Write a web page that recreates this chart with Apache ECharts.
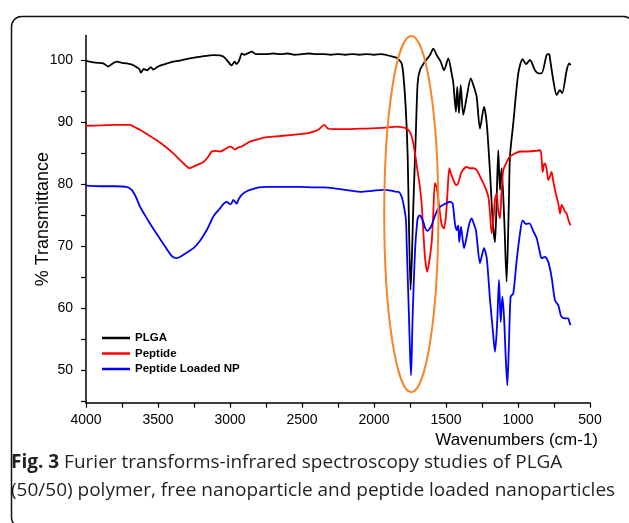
<!DOCTYPE html>
<html>
<head>
<meta charset="utf-8">
<script src="https://cdn.jsdelivr.net/npm/echarts@6/dist/echarts.min.js"></script>
<style>
html,body{margin:0;padding:0;background:#fff;}
#chart{width:629px;height:523px;}
</style>
</head>
<body>
<div id="chart"></div>
<script>
// ---- data (wavenumber cm-1, % transmittance) ----
var plgaWn = [4000,3960,3920,3880,3845,3815,3787,3750,3718,3680,3650,3630,3618,3600,3575,3550,3533,3500,3450,3394,3340,3278,3200,3116,3070,3047,3020,3000,2988,2975,2966,2955,2942,2930,2919,2900,2870,2849,2820,2750,2700,2650,2600,2550,2500,2450,2400,2350,2300,2250,2200,2150,2100,2050,2000,1950,1912,1870,1843,1820,1808,1797,1780,1766,1756,1746,1737,1727,1711,1697,1681,1646,1611,1588,1565,1537,1514,1484,1461,1449,1431,1422,1410,1398,1380,1356,1328,1306,1287,1264,1236,1217,1194,1176,1160,1150,1137,1125,1114,1095,1079,1063,1056,1033,998,968,944,917,882,859,836,801,783,778,755,731,709,693,662,644,635];
var plgaT = [99.9,99.7,99.6,99.5,99.0,99.5,99.8,99.6,99.5,99.3,98.9,98.6,98.0,98.6,98.4,98.9,98.5,99.0,99.4,99.8,100.0,100.3,100.6,100.85,100.8,100.6,100.0,99.4,99.2,99.6,99.8,99.4,99.7,100.4,101.1,100.9,101.2,101.4,101.0,101.0,101.1,101.0,101.1,100.9,101.0,101.1,101.0,101.0,100.9,101.0,100.9,101.0,100.9,101.0,100.9,101.0,100.85,100.6,100.4,99.9,99.5,97.9,92.5,84.5,72.0,63.0,68.0,76.5,87.1,96.3,98.4,99.8,100.85,101.9,100.85,99.8,98.4,100.3,97.9,96.3,91.7,95.7,91.5,96.0,91.2,94.1,97.1,95.7,94.1,89.0,92.5,89.8,81.8,74.2,70.7,76.0,85.5,79.1,82.6,74.0,64.3,77.5,84.5,89.8,97.9,100.2,99.4,100.05,98.4,97.9,97.9,100.85,101.0,100.3,96.8,94.4,95.2,94.7,98.4,99.5,99.2];

var peptideWn = [4000,3900,3800,3700,3694,3660,3625,3570,3509,3450,3394,3350,3324,3300,3283,3260,3231,3185,3150,3127,3100,3070,3040,3000,2985,2966,2945,2919,2890,2861,2800,2745,2650,2514,2450,2387,2345,2320,2283,2200,2100,2051,1950,1900,1843,1800,1773,1755,1738,1715,1700,1681,1668,1658,1645,1630,1615,1600,1590,1577,1565,1545,1530,1514,1500,1490,1477,1465,1449,1435,1422,1405,1392,1356,1333,1311,1287,1252,1229,1206,1195,1183,1172,1160,1149,1138,1125,1115,1102,1080,1056,1020,986,928,880,847,838,829,820,813,801,790,778,767,755,743,730,720,708,697,685,674,662,650,639,635];
var peptideT = [89.45,89.5,89.6,89.6,89.6,89.2,88.8,88.0,87.1,86.1,85.0,84.0,83.4,82.9,82.6,82.8,83.1,83.6,84.5,85.3,85.4,85.3,85.6,86.1,86.0,85.6,85.9,86.1,86.5,86.9,87.3,87.6,87.8,88.1,88.3,88.8,89.6,89.0,88.9,88.9,89.0,89.0,89.1,89.2,89.3,89.2,89.0,88.6,87.7,85.0,82.5,79.6,76.5,72.5,68.0,65.9,67.8,70.5,74.5,80.2,79.5,76.0,73.5,72.9,75.0,78.5,82.6,81.7,80.7,80.0,79.9,81.0,82.0,82.8,82.6,82.6,82.3,80.7,79.6,78.0,75.5,72.1,74.0,77.5,78.5,76.0,74.5,78.5,82.3,83.5,84.5,85.0,85.3,85.3,85.4,85.5,84.8,82.0,83.2,83.4,82.5,80.7,81.3,82.0,80.5,79.1,77.8,76.9,75.3,76.7,76.2,75.6,75.3,74.3,73.6,73.4];

var npWn = [4000,3900,3800,3718,3683,3650,3625,3590,3556,3520,3480,3440,3410,3390,3370,3340,3300,3250,3208,3162,3139,3116,3090,3070,3047,3023,3000,2988,2977,2965,2954,2940,2919,2890,2861,2800,2745,2600,2514,2400,2352,2283,2200,2097,2000,1935,1880,1843,1831,1808,1792,1778,1773,1765,1757,1750,1743,1737,1732,1715,1700,1692,1681,1670,1658,1645,1630,1615,1600,1575,1554,1519,1472,1454,1438,1426,1415,1408,1396,1375,1356,1340,1322,1305,1292,1264,1250,1236,1217,1194,1175,1160,1150,1143,1132,1120,1109,1097,1085,1074,1062,1051,1033,1009,986,968,944,921,893,870,847,836,813,790,767,743,720,703,690,674,651,643,635];
var npT = [79.8,79.7,79.7,79.6,79.1,77.8,76.4,75.0,73.7,72.4,71.0,69.6,68.6,68.2,68.1,68.4,69.0,69.8,70.9,72.6,73.7,74.8,75.6,76.1,76.8,77.2,76.8,77.0,77.5,77.2,76.9,77.6,78.3,78.8,79.1,79.5,79.6,79.6,79.6,79.5,79.5,79.4,79.1,78.8,79.0,79.1,79.0,78.8,78.8,78.0,76.4,74.2,70.5,64.5,58.6,53.0,49.2,53.5,58.6,69.4,74.0,74.8,75.0,74.6,74.0,73.0,72.5,72.8,73.4,75.0,76.1,76.7,77.2,76.9,73.7,72.6,73.4,70.7,73.2,69.7,71.6,73.5,74.5,73.5,72.6,67.3,68.6,69.7,68.1,61.3,56.5,53.0,55.5,58.6,64.6,57.8,61.9,58.6,52.0,47.6,55.0,61.9,62.4,67.8,72.1,74.2,73.6,73.7,72.4,71.3,68.9,68.1,68.3,67.5,65.1,61.3,60.5,58.9,58.5,58.4,58.4,57.8,57.3];

var seriesNames = ['PLGA', 'Peptide', 'Peptide Loaded NP'];
var seriesColors = ['#000000', '#ff0000', '#0000ff'];
var yTickValues = [45,50,55,60,65,70,75,80,85,90,95,100];
var yLabelValues = [50,60,70,80,90,100];
// highlighted region (ellipse): centre wavenumber / transmittance and half-extents in data units
var ellipseCenter = [1741, 75.2];
var ellipseHalf = [188, 28.7];
var captionBold = 'Fig. 3';
var captionLine1 = ' Furier transforms-infrared spectroscopy studies of PLGA';
var captionLine2 = '(50/50) polymer, free nanoparticle and peptide loaded nanoparticles';

function pairs(wn, t){ var out=[]; for(var i=0;i<wn.length;i++){ out.push([wn[i], t[i]]); } return out; }
var allData = [pairs(plgaWn, plgaT), pairs(peptideWn, peptideT), pairs(npWn, npT)];

var chart = echarts.init(document.getElementById('chart'), null, {renderer:'canvas'});
var axisFont = 'Liberation Sans, Arial, sans-serif';

var series = seriesNames.map(function(n, i){
  return {
    name: n, type: 'line', data: allData[i], showSymbol: false, symbol: 'none',
    smooth: 0.25, lineStyle: {color: seriesColors[i], width: 1.8}, itemStyle: {color: seriesColors[i]},
    animation: false
  };
});

chart.setOption({
  animation: false,
  grid: {left: 86, right: 39, top: 35.5, bottom: 120.3, containLabel: false},
  legend: {
    orient: 'vertical', left: 102, top: 331, padding: 0, icon: 'rect', itemWidth: 28, itemHeight: 2.5, itemGap: 1.5,
    data: seriesNames,
    textStyle: {fontFamily: axisFont, fontWeight: 'bold', fontSize: 11.5, color: '#000', lineHeight: 14}
  },
  xAxis: {
    type: 'value', inverse: true, min: 500, max: 4000, interval: 250,
    axisLine: {show: true, lineStyle: {color: '#000', width: 1.5}},
    axisTick: {show: true, inside: false, length: 5, lineStyle: {color: '#000', width: 1.2}},
    axisLabel: {show: true, margin: 10, fontFamily: axisFont, fontSize: 14, color: '#000',
      showMinLabel: true, showMaxLabel: true,
      formatter: function(v){ return (v % 500 === 0) ? String(v) : ''; }},
    splitLine: {show: false}
  },
  yAxis: {
    type: 'value', min: 44.8, max: 104,
    name: '% Transmittance', nameLocation: 'middle', nameGap: 34, nameRotate: 90, nameMoveOverlap: false,
    nameTextStyle: {fontFamily: axisFont, fontSize: 18, color: '#000'},
    axisLine: {show: true, lineStyle: {color: '#000', width: 1.5}},
    axisTick: {show: true, inside: false, length: 5, customValues: yTickValues, lineStyle: {color: '#000', width: 1.2}},
    axisLabel: {show: true, margin: 13, fontFamily: axisFont, fontSize: 14, color: '#000', customValues: yLabelValues},
    splitLine: {show: false}
  },
  series: series
});

// annotation graphics positioned through the axes
var c = chart.convertToPixel({gridIndex: 0}, ellipseCenter);
var e1 = chart.convertToPixel({gridIndex: 0}, [ellipseCenter[0] - ellipseHalf[0], ellipseCenter[1] + ellipseHalf[1]]);
var rx = Math.abs(e1[0] - c[0]), ry = Math.abs(c[1] - e1[1]);

chart.setOption({
  graphic: [
    {type: 'rect', left: 9, top: 14, z: 100, silent: true,
      shape: {x: 0, y: 0, width: 622, height: 511, r: 10},
      style: {fill: 'none', stroke: '#111', lineWidth: 1.5}},
    {type: 'ellipse', z: 50, silent: true,
      shape: {cx: c[0], cy: c[1], rx: rx, ry: ry},
      style: {fill: 'none', stroke: '#f7862a', lineWidth: 2}},
    {type: 'text', right: 31, top: 432, silent: true,
      style: {text: 'Wavenumbers (cm-1)', font: '17px Liberation Sans, Arial, sans-serif', fill: '#000'}},
    {type: 'text', left: 11, top: 453, silent: true,
      style: {
        text: '{b|' + captionBold + '}{n|' + captionLine1 + '}\n{n|' + captionLine2 + '}',
        rich: {
          b: {fontFamily: 'Open Sans', fontWeight: 'bold', fontSize: 19, fill: '#231f20', lineHeight: 28},
          n: {fontFamily: 'Open Sans', fontSize: 19, fill: '#231f20', lineHeight: 28}
        }
      }}
  ]
});
</script>
</body>
</html>
